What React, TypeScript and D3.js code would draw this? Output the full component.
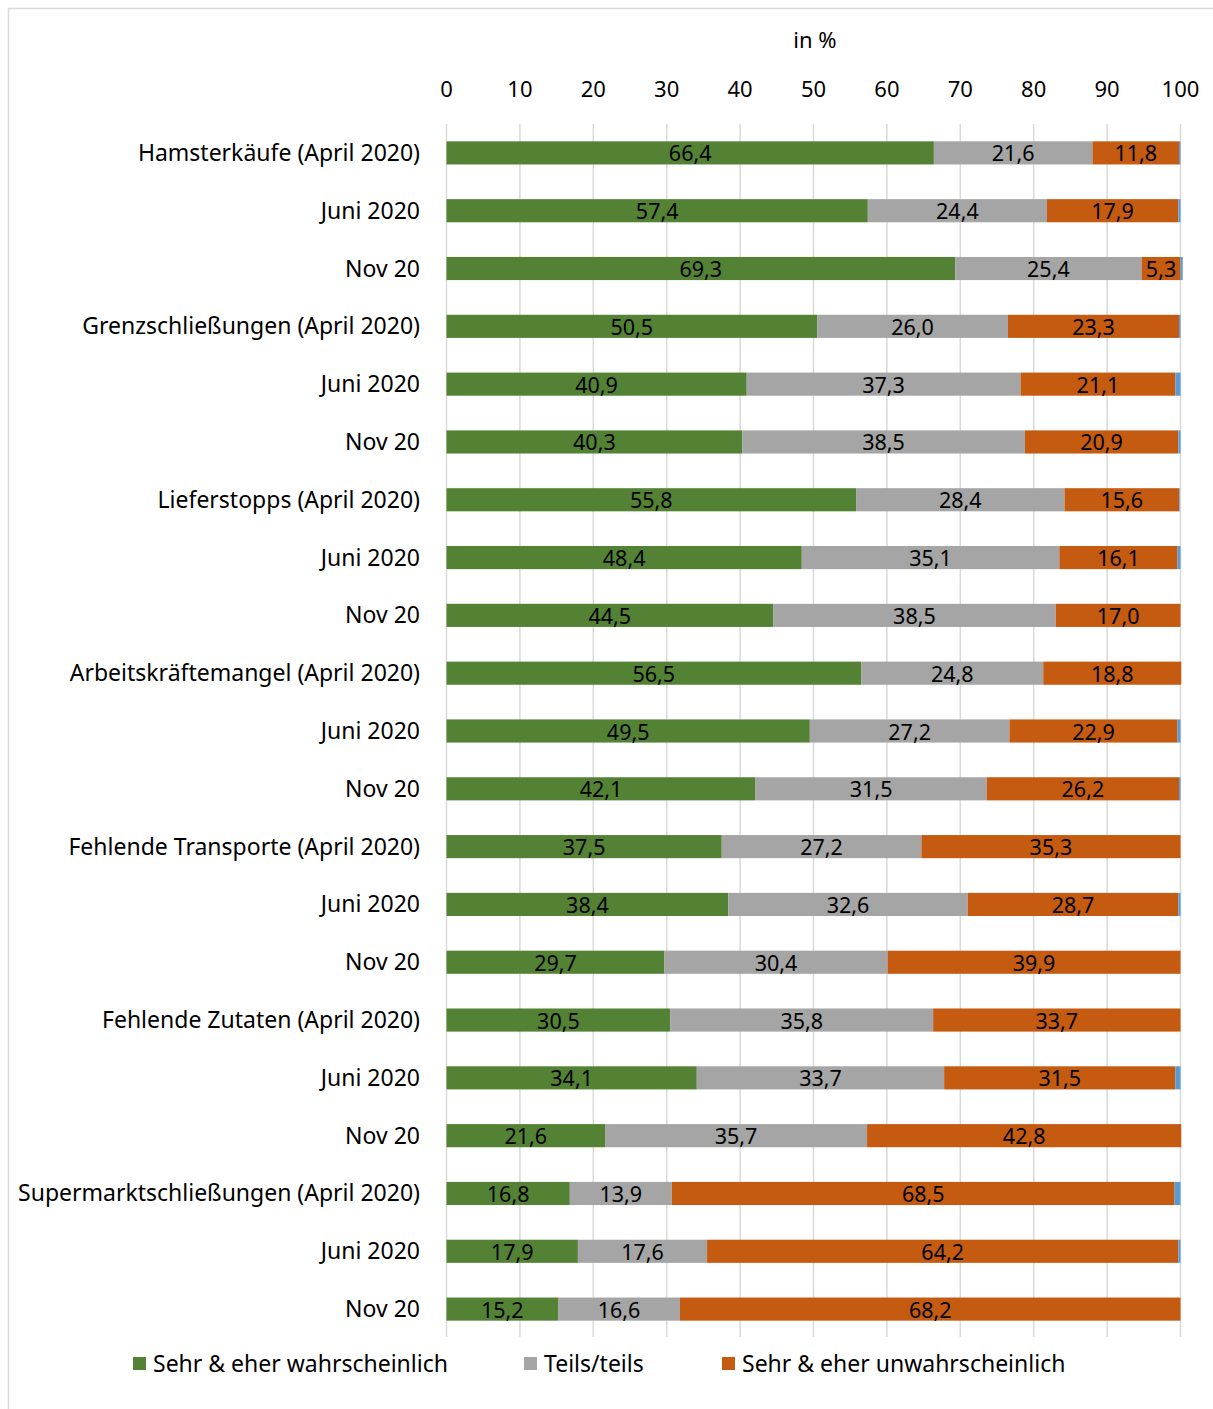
import React, { useEffect, useRef } from 'react';
import * as d3 from 'd3';

const categories = [
  'Hamsterkäufe (April 2020)', 'Juni 2020', 'Nov 20',
  'Grenzschließungen (April 2020)', 'Juni 2020', 'Nov 20',
  'Lieferstopps (April 2020)', 'Juni 2020', 'Nov 20',
  'Arbeitskräftemangel (April 2020)', 'Juni 2020', 'Nov 20',
  'Fehlende Transporte (April 2020)', 'Juni 2020', 'Nov 20',
  'Fehlende Zutaten (April 2020)', 'Juni 2020', 'Nov 20',
  'Supermarktschließungen (April 2020)', 'Juni 2020', 'Nov 20',
];

const likely = [66.4, 57.4, 69.3, 50.5, 40.9, 40.3, 55.8, 48.4, 44.5, 56.5, 49.5, 42.1, 37.5, 38.4, 29.7, 30.5, 34.1, 21.6, 16.8, 17.9, 15.2];
const partly = [21.6, 24.4, 25.4, 26.0, 37.3, 38.5, 28.4, 35.1, 38.5, 24.8, 27.2, 31.5, 27.2, 32.6, 30.4, 35.8, 33.7, 35.7, 13.9, 17.6, 16.6];
const unlikely = [11.8, 17.9, 5.3, 23.3, 21.1, 20.9, 15.6, 16.1, 17.0, 18.8, 22.9, 26.2, 35.3, 28.7, 39.9, 33.7, 31.5, 42.8, 68.5, 64.2, 68.2];
const noAnswer = [0.2, 0.3, 0.3, 0.2, 0.7, 0.3, 0.1, 0.4, 0, 0, 0.4, 0.2, 0, 0.3, 0, 0, 0.7, 0, 0.8, 0.3, 0];

const seriesNames = ['Sehr & eher wahrscheinlich', 'Teils/teils', 'Sehr & eher unwahrscheinlich'];
const colors = ['#548235', '#A5A5A5', '#C55A11', '#5B9BD5'];
const ticks = [0, 10, 20, 30, 40, 50, 60, 70, 80, 90, 100];

const FONT = '"Noto Sans", sans-serif';

function App() {
  const ref = useRef<SVGSVGElement>(null);

  useEffect(() => {
    const svg = d3.select(ref.current);
    svg.selectAll('*').remove();

    const rows = categories.map((c, i) => ({ i, vals: [likely[i], partly[i], unlikely[i], noAnswer[i]] }));

    const x = d3.scaleLinear().domain([0, 100]).range([446.5, 1180.5]);
    const y = d3.scaleBand<number>().domain(d3.range(categories.length)).range([124, 1338]).paddingInner(0.6).paddingOuter(0.3);

    // frame
    svg.append('rect')
      .attr('x', 8.5).attr('y', 8.5).attr('width', 1220).attr('height', 1420)
      .attr('fill', 'white').attr('stroke', '#D9D9D9').attr('stroke-width', 1.5);

    svg.append('text')
      .attr('x', 815).attr('y', 48).attr('text-anchor', 'middle')
      .attr('font-family', FONT).attr('font-size', 22).text('in %');

    const g = svg.append('g');
    g.selectAll('line.grid').data(ticks).enter().append('line')
      .attr('x1', d => x(d)).attr('x2', d => x(d))
      .attr('y1', 124).attr('y2', 1337)
      .attr('stroke', '#D9D9D9').attr('stroke-width', 1.5);

    g.selectAll('text.tick').data(ticks).enter().append('text')
      .attr('x', d => x(d)).attr('y', 97).attr('text-anchor', 'middle')
      .attr('font-family', FONT).attr('font-size', 22).text(d => d);

    const bw = y.bandwidth();
    rows.forEach(r => {
      let acc = 0;
      const cy = (y(r.i) as number) + bw / 2;
      r.vals.forEach((v, k) => {
        if (v > 0) {
          g.append('rect')
            .attr('x', x(acc)).attr('y', y(r.i) as number)
            .attr('width', x(acc + v) - x(acc)).attr('height', bw)
            .attr('fill', colors[k]);
          if (k < 3) {
            g.append('text')
              .attr('x', x(acc + v / 2)).attr('y', cy + 8.5).attr('text-anchor', 'middle')
              .attr('font-family', FONT).attr('font-size', 21.5)
              .text(v.toFixed(1).replace('.', ','));
          }
        }
        acc += v;
      });
      svg.append('text')
        .attr('x', 420).attr('y', cy + 8).attr('text-anchor', 'end')
        .attr('font-family', FONT).attr('font-size', 23)
        .text(categories[r.i]);
    });

    const legX = [133, 524, 722];
    seriesNames.forEach((name, k) => {
      svg.append('rect').attr('x', legX[k]).attr('y', 1357).attr('width', 13).attr('height', 13).attr('fill', colors[k]);
      svg.append('text').attr('x', legX[k] + 20).attr('y', 1372)
        .attr('font-family', FONT).attr('font-size', 23).text(name);
    });
  }, []);

  return (
    <svg ref={ref} width={1213} height={1409}
      style={{ position: 'absolute', left: 0, top: 0, display: 'block' }} />
  );
}

export default App;
